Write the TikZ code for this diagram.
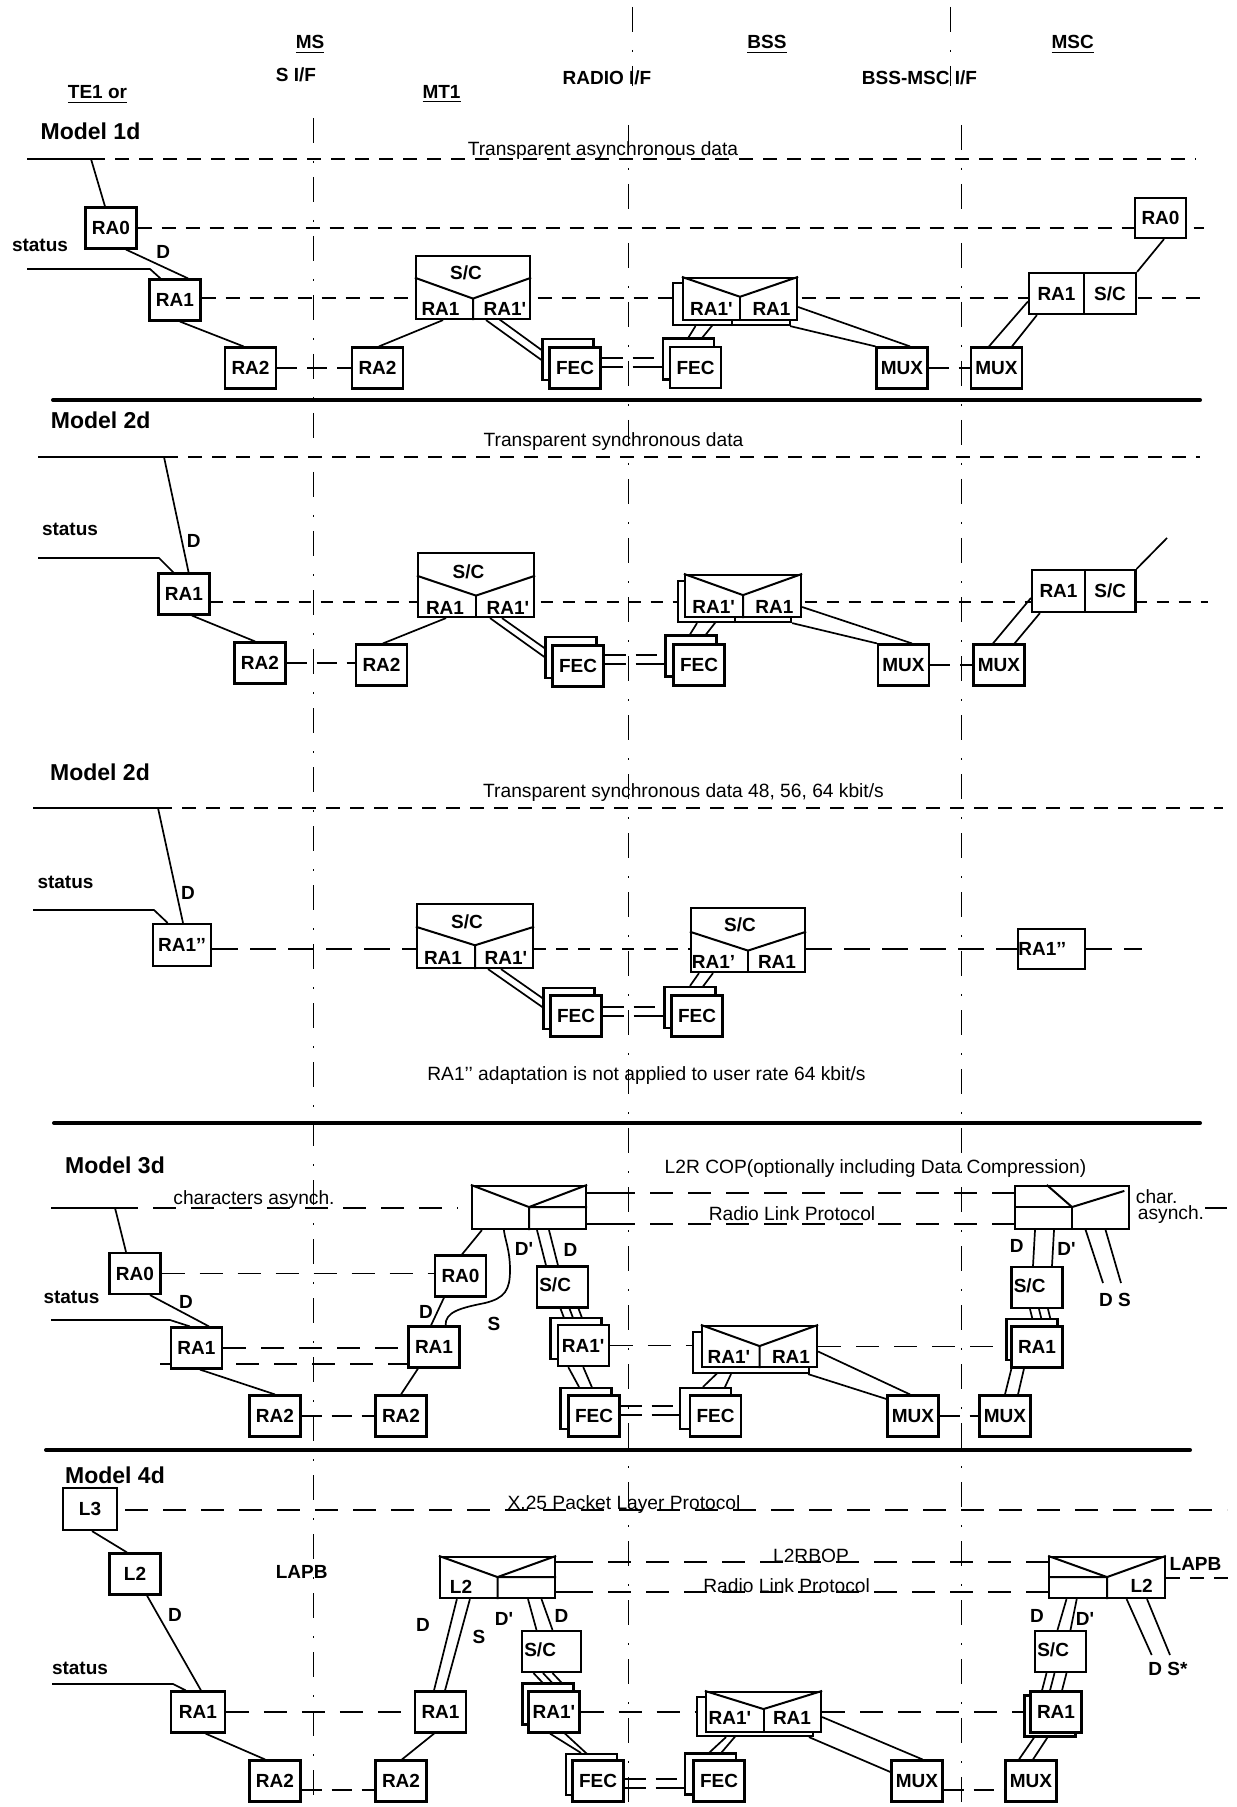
\documentclass[tikz,border=0pt]{standalone}
\usepackage{fontspec}
\setmainfont{Liberation Sans}
\usetikzlibrary{calc}
\usetikzlibrary{backgrounds}
\newcommand{\rapr}{\textquotesingle}

\begin{document}
\begin{tikzpicture}[
        x=0.5pt, y=-0.5pt, % una unidad = 1 px del dibujo, y hacia abajo
        lbl/.style={font=\bfseries\fontsize{9.5}{11}\selectfont, inner sep=0pt},
        tag/.style={lbl, anchor=base},
        txt/.style={font=\fontsize{9.6}{11}\selectfont, inner sep=0pt, anchor=base},
        ttl/.style={font=\bfseries\fontsize{11.5}{13}\selectfont, inner sep=0pt, anchor=base},
        blk/.style={draw, line width=1.1pt, fill=white, minimum width=25.5pt, minimum height=20.5pt, lbl},
        grp/.style={draw, line width=1.1pt, fill=white, inner sep=0pt},
        boxln/.style={line width=1pt},
        wire/.style={line width=0.85pt},
        divline/.style={line width=2pt, line cap=round},
        ifline/.style={line width=0.5pt, dash pattern=on 12.5pt off 9pt on 1pt off 7pt},
        hdash/.style={line width=1.15pt, dash pattern=on 7pt off 5pt},
        mdash/.style={line width=0.7pt, dash pattern=on 6pt off 5pt},
        ldash/.style={line width=0.55pt, dash pattern=on 11.5pt off 7.5pt},
        tdash/.style={line width=1.25pt, dash pattern=on 13pt off 6pt},
        rdash/.style={line width=1.4pt, dash pattern=on 10pt off 5pt},
        fecbus/.style={line width=1.3pt}
    ]
        % --- macros para las cajas compuestas ---
        \def\boxV#1#2#3{%
          \draw[boxln] ($(#1.north west)!#2!(#1.south west)$) -- ($(#1.north)!#3!(#1.south)$) coordinate (#1v) -- ($(#1.north east)!#2!(#1.south east)$);
          \draw[boxln] (#1v) -- (#1.south);}
        \def\boxL#1#2{%
          \draw[boxln] (#1.north west) -- ($(#1.north)!0.49!(#1.south)$) coordinate (#1v) -- (#1.north east);
          \draw[boxln] (#1v) -- (#1v -| #1.#2) (#1v) -- (#1.south);}
        \def\fecpair#1#2{%
          \draw[fecbus] ($(#1.east)+(0,#2)$) -- ++(21,0) ($(#1.east)+(31,#2)$) -- ++(21,0);
          \draw[fecbus] ($(#1.east)+(0,#2+9)$) -- ++(21,0) ($(#1.east)+(31,#2+9)$) -- ++(45,0);}

        \useasboundingbox (0,0) rectangle (1236,1807);

        % --- cabecera ---
        \node[tag] (hms) at (310,49) {\underline{MS}};
        \node[tag] (hsif) at (296,82) {S I/F};
        \node[tag] (hte) at (97.5,99) {\underline{TE1 or}};
        \node[tag] (hmt) at (441.5,99) {\underline{MT1}};
        \node[tag] (hradio) at (607,85) {RADIO I/F};
        \node[tag] (hbss) at (767,49) {\underline{BSS}};
        \node[tag] (hbssmsc) at (919.5,85) {BSS-MSC I/F};
        \node[tag] (hmsc) at (1072.6,49) {\underline{MSC}};

        \coordinate (sif-t) at (313,118);
        \coordinate (sif-b) at (313,1807);
        \coordinate (rif-u) at (632.5,7);
        \coordinate (rif-v) at (632.5,86);
        \coordinate (rif-t) at (628,125);
        \coordinate (rif-b) at (628,1807);
        \coordinate (bif-u) at (950,7);
        \coordinate (bif-v) at (950,86);
        \coordinate (bif-t) at (961,125);
        \coordinate (bif-b) at (961,1807);

        % ================= Model 1d =================
        \node[ttl] (m1title) at (90.5,140) {Model 1d};
        \node[txt] (m1txt) at (603,156) {Transparent asynchronous data};
        \node[tag] (m1st) at (40,252) {status};
        \node[tag] (m1dl) at (163.3,259) {D};

        \node[blk] (m1ra0) at (111,228) {RA0};
        \node[blk] (m1ra1) at (175,300) {RA1};
        \node[blk] (m1ra2) at (250.5,368) {RA2};
        \node[blk] (m1ra2b) at (377.5,368) {RA2};
        \node[grp, minimum width=57pt, minimum height=31.5pt] (m1ms) at (473,287.5) {};
        \node[blk] (m1fecb) at (568,359.5) {};
        \node[blk] (m1fec) at (575,368) {FEC};
        \node[blk] (m1bfecb) at (688.5,359) {};
        \node[blk] (m1bfec) at (695.5,367.5) {FEC};
        \node[grp, minimum width=58.5pt, minimum height=21pt] (m1bssb) at (731.5,304) {};
        \node[grp, minimum width=57pt, minimum height=21pt] (m1bss) at (740,299) {};
        \node[blk] (m1mux) at (902,368) {MUX};
        \node[blk] (m1muxb) at (996.5,368) {MUX};
        \node[blk, minimum width=27.5pt] (m1ra1c) at (1056.5,293.5) {RA1};
        \node[blk, minimum width=26pt] (m1sc) at (1110,293.5) {S/C};
        \node[blk, minimum height=20pt] (m1ra0c) at (1160.5,218) {RA0};

        \boxV{m1ms}{0.35}{0.67}
        \node[lbl] (m1ms-t) at (466,273) {S/C};
        \node[lbl] (m1ms-l) at (440.5,309) {RA1};
        \node[lbl] (m1ms-r) at (505,309) {RA1\rapr};
        \boxV{m1bss}{0}{0.45}
        \draw[boxln] (m1bssb.south) -- ++(0,-5);
        \node[lbl] (m1bss-l) at (711.5,309) {RA1\rapr};
        \node[lbl] (m1bss-r) at (771.5,309) {RA1};

        % ================= Model 2d =================
        \node[ttl] (m2title) at (100.7,429) {Model 2d};
        \node[txt] (m2txt) at (613.5,447) {Transparent synchronous data};
        \node[tag] (m2st) at (70,536) {status};
        \node[tag] (m2dl) at (193.7,547) {D};

        \node[blk] (m2ra1) at (184,594) {RA1};
        \node[blk] (m2ra2) at (260,663) {RA2};
        \node[blk] (m2ra2b) at (381.5,665) {RA2};
        \node[grp, minimum width=58pt, minimum height=32pt] (m2ms) at (476,585) {};
        \node[blk] (m2fecb) at (571,657.5) {};
        \node[blk] (m2fec) at (578,666) {FEC};
        \node[blk] (m2bfecb) at (691,656) {};
        \node[blk] (m2bfec) at (699,665) {FEC};
        \node[grp, minimum width=56.5pt, minimum height=20.5pt] (m2bssb) at (734.5,601.5) {};
        \node[grp, minimum width=58pt, minimum height=21pt] (m2bss) at (743,596) {};
        \node[blk] (m2mux) at (903.5,665) {MUX};
        \node[blk] (m2muxb) at (999,665) {MUX};
        \node[blk, minimum width=26.5pt, minimum height=21pt] (m2ra1c) at (1058.5,591) {RA1};
        \node[blk, minimum width=25.25pt, minimum height=21pt] (m2sc) at (1110.25,591) {S/C};

        \boxV{m2ms}{0.36}{0.66}
        \node[lbl] (m2ms-t) at (468.5,572) {S/C};
        \node[lbl] (m2ms-l) at (445,608) {RA1};
        \node[lbl] (m2ms-r) at (508,608) {RA1\rapr};
        \boxV{m2bss}{0}{0.48}
        \draw[boxln] (m2bssb.south) -- ++(0,-5);
        \node[lbl] (m2bss-l) at (713.6,607) {RA1\rapr};
        \node[lbl] (m2bss-r) at (774.4,607) {RA1};

        % ================= Model 2d (48, 56, 64 kbit/s) =================
        \node[ttl] (m3title) at (100,780) {Model 2d};
        \node[txt] (m3txt) at (683.5,797) {Transparent synchronous data 48, 56, 64 kbit/s};
        \node[txt] (m3note) at (646.5,1080) {RA1’’ adaptation is not applied to user rate 64 kbit/s};
        \node[tag] (m3st) at (65.5,888) {status};
        \node[tag] (m3dl) at (188,899.5) {D};

        \node[blk, minimum width=29.25pt, minimum height=21pt] (m3ra) at (182,945) {RA1’’};
        \node[grp, minimum width=58pt, minimum height=32pt] (m3ms) at (475,936) {};
        \node[blk] (m3fecb) at (569,1008.5) {};
        \node[blk] (m3fec) at (576,1016) {FEC};
        \node[blk] (m3bfecb) at (690,1007.5) {};
        \node[blk] (m3bfec) at (697,1016) {FEC};
        \node[grp, minimum width=57pt, minimum height=32pt] (m3bss) at (748,940) {};
        \node[blk, minimum width=33.5pt, minimum height=20pt] (m3rab) at (1051.5,949) {};
        \node[lbl, anchor=west] (m3rab-t) at ($(m3rab.west)+(1,0)$) {RA1’’};

        \boxV{m3ms}{0.36}{0.64}
        \node[lbl] (m3ms-t) at (467,922) {S/C};
        \node[lbl] (m3ms-l) at (443,958) {RA1};
        \node[lbl] (m3ms-r) at (506,958) {RA1\rapr};
        \boxV{m3bss}{0.375}{0.66}
        \node[lbl] (m3bss-t) at (740,925) {S/C};
        \node[lbl] (m3bss-l) at (713.6,962) {RA1’};
        \node[lbl] (m3bss-r) at (777,962) {RA1};

        % ================= Model 3d =================
        \node[ttl] (m4title) at (115,1173) {Model 3d};
        \node[txt] (m4cop) at (875.5,1173) {L2R COP(optionally including Data Compression)};
        \node[txt] (m4rlp) at (792,1220) {Radio Link Protocol};
        \node[txt] (m4chr) at (254,1204) {characters asynch.};
        \node[txt, anchor=base west] (m4ch1) at (1135.5,1203) {char.};
        \node[txt, anchor=base west] (m4ch2) at (1137.5,1219) {asynch.};
        \node[tag] (m4st) at (71.5,1303) {status};
        \node[tag] (m4dl) at (186,1308) {D};
        \node[tag] (m4d2) at (426,1318) {D};
        \node[tag] (m4s2) at (494,1330) {S};
        \node[tag] (m4dp) at (524,1255) {D\rapr};
        \node[tag] (m4d3) at (570.6,1256) {D};
        \node[tag] (m4d4) at (1016.6,1252) {D};
        \node[tag] (m4dq) at (1066.5,1255) {D\rapr};
        \node[tag] (m4ds) at (1115,1306) {D S};

        \node[blk] (m4ra0) at (135,1273.5) {RA0};
        \node[blk] (m4ra1) at (196.5,1348) {RA1};
        \node[blk] (m4ra2) at (275,1416) {RA2};
        \node[blk] (m4ra2b) at (401,1416) {RA2};
        \node[blk] (m4ra1b) at (434,1347) {RA1};
        \node[blk] (m4ra0b) at (460.5,1276) {RA0};
        \node[grp, minimum width=57pt, minimum height=21.5pt] (m4ms) at (529,1207.5) {};
        \node[blk] (m4sc) at (562.5,1287) {};
        \node[lbl, anchor=west] (m4sc-t) at ($(m4sc.west)+(3,-2)$) {S/C};
        \node[blk] (m4r1pb) at (576,1338.5) {};
        \node[blk] (m4r1p) at (583.25,1345.5) {RA1\rapr};
        \node[blk] (m4fecb) at (586,1408.5) {};
        \node[blk] (m4fec) at (594,1416) {FEC};
        \node[blk] (m4bfecb) at (705.5,1408.5) {};
        \node[blk] (m4bfec) at (715.5,1416) {FEC};
        \node[grp, minimum width=58pt, minimum height=20.5pt] (m4bssb) at (751,1352.5) {};
        \node[grp, minimum width=57.5pt, minimum height=20.5pt] (m4bss) at (759.5,1346.5) {};
        \node[blk] (m4mux) at (913,1416) {MUX};
        \node[blk] (m4muxb) at (1005,1416) {MUX};
        \node[blk] (m4ra1cb) at (1032,1339.5) {};
        \node[blk] (m4ra1c) at (1037,1347) {RA1};
        \node[blk] (m4sc2) at (1037,1287.5) {};
        \node[lbl, anchor=west] (m4sc2-t) at ($(m4sc2.west)+(3,-2)$) {S/C};
        \node[grp, minimum width=57.2pt, minimum height=21.5pt] (m4msr) at (1072,1207.5) {};

        \boxL{m4ms}{east}
        \draw[boxln] ($(m4msr.north west)+(33,0)$) -- ($(m4msr.north)!0.49!(m4msr.south)$) coordinate (m4msrv) -- ($(m4msr.north east)+(-6,6)$);
        \draw[boxln] (m4msrv) -- (m4msrv -| m4msr.west) (m4msrv) -- (m4msr.south);
        \boxV{m4bss}{0}{0.49}
        \node[lbl] (m4bss-l) at (729,1357) {RA1\rapr};
        \node[lbl] (m4bss-r) at (791,1357) {RA1};

        % ================= Model 4d =================
        \node[ttl] (m5title) at (115,1483) {Model 4d};
        \node[txt] (m5x25) at (624,1509) {X.25 Packet Layer Protocol};
        \node[txt] (m5l2r) at (811,1562) {L2RBOP};
        \node[txt] (m5rlp) at (786.6,1592) {Radio Link Protocol};
        \node[tag] (m5lapb) at (301.7,1578) {LAPB};
        \node[tag] (m5lapb2) at (1195.5,1570) {LAPB};
        \node[tag] (m5st) at (80,1674) {status};
        \node[tag] (m5dl) at (175,1621) {D};
        \node[tag] (m5d2) at (423,1631) {D};
        \node[tag] (m5s2) at (479,1643) {S};
        \node[tag] (m5dp) at (504,1625) {D\rapr};
        \node[tag] (m5d3) at (561.5,1622) {D};
        \node[tag] (m5d4) at (1037,1622) {D};
        \node[tag] (m5dq) at (1085,1625) {D\rapr};
        \node[tag] (m5ds) at (1168,1675) {D S*};

        \node[blk, minimum width=27pt, minimum height=21pt] (m5l3) at (90,1509) {L3};
        \node[blk] (m5l2) at (135,1574) {L2};
        \node[blk, minimum width=26.8pt] (m5ra1) at (198,1712) {RA1};
        \node[blk] (m5ra2) at (275,1781) {RA2};
        \node[blk] (m5ra2b) at (401,1781) {RA2};
        \node[blk] (m5ra1b) at (440.5,1712) {RA1};
        \node[grp, minimum width=57.5pt, minimum height=20.5pt] (m5ms) at (497.5,1577.5) {};
        \node[blk, minimum width=29.5pt] (m5sc) at (551.5,1651.5) {};
        \node[lbl, anchor=west] (m5sc-t) at ($(m5sc.west)+(3,-2)$) {S/C};
        \node[blk] (m5r1pb) at (548,1704) {};
        \node[blk] (m5r1p) at (554,1712) {RA1\rapr};
        \node[blk] (m5fecb) at (591.5,1774.5) {};
        \node[blk] (m5fec) at (598,1781) {FEC};
        \node[blk] (m5bfecb) at (710.5,1774) {};
        \node[blk] (m5bfec) at (719,1781) {FEC};
        \node[grp, minimum width=58pt, minimum height=19.5pt] (m5bssb) at (755,1716.5) {};
        \node[grp, minimum width=57.5pt, minimum height=20pt] (m5bss) at (763.5,1712) {};
        \node[blk] (m5mux) at (917,1781) {MUX};
        \node[blk] (m5muxb) at (1031,1781) {MUX};
        \node[blk] (m5ra1cb) at (1050,1716) {};
        \node[blk] (m5ra1c) at (1056,1712) {RA1};
        \node[blk] (m5sc2) at (1060.5,1651.5) {};
        \node[lbl, anchor=west] (m5sc2-t) at ($(m5sc2.west)+(3,-2)$) {S/C};
        \node[grp, minimum width=57.75pt, minimum height=20.5pt] (m5msr) at (1107,1577.5) {};

        \boxL{m5ms}{east}
        \node[lbl] (m5ms-t) at (461,1587) {L2};
        \boxL{m5msr}{west}
        \node[lbl] (m5msr-t) at (1141.6,1586) {L2};
        \boxV{m5bss}{0}{0.43}
        \node[lbl] (m5bss-l) at (730,1718) {RA1\rapr};
        \node[lbl] (m5bss-r) at (792,1718) {RA1};

        % ================= lineas (detras de las cajas) =================
        \begin{pgfonlayer}{background}
        % interfaces y separadores
        \draw[ifline] (sif-t) -- (sif-b);
        \draw[ifline] (rif-u) -- (rif-v);
        \draw[ifline] (rif-t) -- (rif-b);
        \draw[ifline] (bif-u) -- (bif-v);
        \draw[ifline] (bif-t) -- (bif-b);
        \draw[divline] (53,400) -- (1200,400);
        \draw[divline] (54,1123) -- (1200,1123);
        \draw[divline] (46,1450) -- (1190,1450);

        % --- Model 1d ---
        \coordinate (m1a) at (27,159);
        \coordinate (m1b) at (91,159);
        \coordinate (m1c) at (1196,159);
        \coordinate (m1d) at (1204,228);
        \coordinate (m1e) at (1202,298);
        \coordinate (m1s) at (27,269);
        \draw[wire] (m1a) -- (m1b) -- ($(m1ra0.north)+(-6,0)$);
        \draw[hdash] (m1b) -- (m1c);
        \draw[hdash] (m1ra0.east) -- (m1d);
        \draw[wire] (m1s) -- ++(123,0) -- ($(m1ra1.north west)+(12,0)$);
        \draw[wire] ($(m1ra0.south)+(15,0)$) -- ($(m1ra1.north)+(13,0)$);
        \draw[hdash] (m1ra1.east |- m1e) -- (m1e);
        \draw[wire] ($(m1ra1.south)+(5,0)$) -- ($(m1ra2.north)+(-7,0)$);
        \draw[rdash] (m1ra2.east) -- (m1ra2b.west);
        \draw[wire] ($(m1ra2b.north)+(1.5,0)$) -- ($(m1ms.south)+(-30,0)$);
        \draw[wire] ($(m1ms.south)+(13,0)$) -- ($(m1fec.west)+(0,-3)$);
        \draw[wire] ($(m1ms.south)+(26,-1)$) -- ($(m1fec.west)+(0,-13)$);
        \fecpair{m1fec}{-10}
        \draw[wire] ($(m1bss.south)+(-25,1)$) -- (m1bfec.north);
        \draw[wire] ($(m1bssb.south)+(-36,0)$) -- (m1bfecb.north);
        \draw[wire] ($(m1bss.east)+(0,8)$) -- ($(m1mux.north)+(8,0)$);
        \draw[wire] ($(m1bssb.south east)+(-1,0)$) -- (m1mux.north west);
        \draw[rdash] (m1mux.east) -- (m1muxb.west);
        \draw[wire] ($(m1ra1c.west)+(0,8)$) -- ($(m1muxb.north)+(-7.5,0)$);
        \draw[wire] ($(m1ra1c.south west)+(9,0)$) -- ($(m1muxb.north)+(15.5,0)$);
        \draw[wire] (m1sc.north east) -- ($(m1ra0c.south)+(3.5,0)$);

        % --- Model 2d ---
        \coordinate (m2a) at (38,457);
        \coordinate (m2b) at (164,457);
        \coordinate (m2c) at (1200,457);
        \coordinate (m2e) at (1208,602);
        \coordinate (m2f) at (1167,538);
        \coordinate (m2s) at (38,558);
        \draw[wire] (m2a) -- (m2b) -- ($(m2ra1.north)+(4.6,0)$);
        \draw[hdash] (m2b) -- (m2c);
        \draw[wire] (m2s) -- ++(121,0) -- ($(m2ra1.north west)+(16,0)$);
        \draw[mdash] (m2ra1.east |- m2e) -- (m2e);
        \draw[wire] ($(m2ra1.south)+(8,0)$) -- ($(m2ra2.north)+(-5,0)$);
        \draw[rdash] (m2ra2.east) -- (m2ra2.east -| m2ra2b.west);
        \draw[wire] ($(m2ra2b.north)+(1.5,0)$) -- ($(m2ms.south)+(-30,0)$);
        \draw[wire] ($(m2ms.south)+(14,0)$) -- ($(m2fec.west)+(0,-4)$);
        \draw[wire] ($(m2ms.south)+(26,0)$) -- ($(m2fec.west)+(0,-13)$);
        \fecpair{m2fec}{-11}
        \draw[wire] ($(m2bss.south)+(-25,1)$) -- (m2bfec.north);
        \draw[wire] ($(m2bssb.south)+(-37.5,0)$) -- ($(m2bfecb.north)+(-1,0)$);
        \draw[wire] ($(m2bss.east)+(0,11)$) -- ($(m2mux.north)+(8.5,0)$);
        \draw[wire] (m2bssb.south east) -- (m2mux.north west);
        \draw[rdash] (m2mux.east) -- (m2muxb.west);
        \draw[wire] (m2sc.north east) -- (m2f);
        \draw[wire] ($(m2ra1c.west)+(0,7)$) -- ($(m2muxb.north)+(-6,0)$);
        \draw[wire] ($(m2ra1c.south west)+(9,0)$) -- ($(m2muxb.north)+(15.6,0)$);

        % --- Model 2d (48, 56, 64 kbit/s) ---
        \coordinate (m3a) at (33,808);
        \coordinate (m3b) at (158,808);
        \coordinate (m3c) at (1223,808);
        \coordinate (m3s) at (33,910);
        \coordinate (m3row) at (0,949);
        \coordinate (m3e) at (1142,949);
        \draw[wire] (m3a) -- (m3b) -- ($(m3ra.north)+(1,0)$);
        \draw[hdash] (m3b) -- (m3c);
        \draw[wire] (m3s) -- ++(121,0) -- ($(m3ra.north west)+(16,0)$);
        \draw[tdash] (m3ra.east |- m3row) -- (m3ms.west |- m3row);
        \draw[mdash] (m3ms.east |- m3row) -- (m3bss.west |- m3row);
        \draw[tdash] (m3bss.east |- m3row) -- (m3rab.west);
        \draw[tdash] (m3rab.east) -- (m3e);
        \draw[wire] ($(m3ms.south)+(13,0)$) -- ($(m3fec.west)+(0,-4)$);
        \draw[wire] ($(m3ms.south)+(26,0)$) -- ($(m3fec.west)+(0,-13)$);
        \fecpair{m3fec}{-9}
        \draw[wire] ($(m3bss.south)+(-49,0)$) -- (m3bfecb.north);
        \draw[wire] ($(m3bss.south)+(-35,0)$) -- (m3bfec.north);

        % --- Model 3d ---
        \coordinate (m4a) at (51,1208);
        \coordinate (m4b) at (115,1208);
        \coordinate (m4c) at (458,1208);
        \coordinate (m4s) at (51,1320);
        \coordinate (m4d) at (160,1364);
        \coordinate (m4p) at (612,1193);
        \coordinate (m4q) at (612,1224);
        \coordinate (m4r) at (1205,1208);
        \coordinate (m4t) at (1227,1208);
        \coordinate (m4ds1) at (1103,1283);
        \coordinate (m4ds2) at (1121,1283);
        \draw[wire] (m4a) -- (m4b) -- ($(m4ra0.north)+(-9,0)$);
        \draw[ldash] (m4b) -- (m4c);
        \draw[ldash] (m4ra0.east) -- (m4ra0.east -| m4ra0b.west);
        \draw[wire] (m4s) -- ++(119,0) -- ($(m4ra1.north west)+(20,0)$);
        \draw[wire] ($(m4ra0.south)+(15,0)$) -- ($(m4ra1.north)+(12.5,0)$);
        \draw[ldash] (m4ra1.east) -- (m4ra1.east -| m4ra1b.west);
        \draw[ldash] (m4d) -- (m4d -| m4ra1b.west);
        \draw[wire] ($(m4ra1.south)+(3.5,0)$) -- (m4ra2.north);
        \draw[rdash] (m4ra2.east) -- (m4ra2b.west);
        \draw[wire] (m4ra2b.north) -- ($(m4ra1b.south)+(-16,0)$);
        \draw[wire] ($(m4ra1b.north)+(-3,0)$) -- ($(m4ra0b.south)+(-16.5,0)$);
        \draw[wire] ($(m4ra0b.north)+(1.5,0)$) -- ($(m4ms.south west)+(11,0)$);
        \draw[wire] ($(m4ra1b.north)+(11.6,0)$) .. controls (445,1312) and (460,1308) .. (485,1303)
            .. controls (505,1298) and (510,1290) .. (510,1270)
            .. controls (510,1250) and (505,1240) .. ($(m4ms.south west)+(33,0)$);
        \draw[wire] ($(m4ms.south)+(8,0)$) -- ($(m4sc.north)+(-16.5,0)$);
        \draw[wire] ($(m4ms.south)+(20,0)$) -- ($(m4sc.north)+(-4.5,0)$);
        \foreach \k in {0,9,18}
            \draw[wire] ($(m4sc.south)+(-2+\k,0)$) -- ($(m4r1p.north)+(-17+\k,0)$);
        \draw[wire] (m4ms.east |- m4p) -- (m4p);
        \draw[ldash] (m4p) -- (m4msr.west |- m4p);
        \draw[wire] (m4ms.east |- m4q) -- (m4q);
        \draw[ldash] (m4q) -- (m4msr.west |- m4q);
        \draw[ldash] (m4r1p.east) -- (m4r1p.east -| m4bss.west);
        \draw[ldash] (m4bss.east) -- (m4bss.east -| m4ra1c.west);
        \draw[wire] ($(m4r1p.south)+(-15,0)$) -- ($(m4fecb.north)+(-7,0)$);
        \draw[wire] (m4r1p.south) -- ($(m4fec.north)+(1,0)$);
        \fecpair{m4fec}{-10}
        \draw[wire] ($(m4bss.south)+(-37,0)$) -- ($(m4bfecb.north)+(-2.5,0)$);
        \draw[wire] ($(m4bssb.south)+(-20,0)$) -- ($(m4bfec.north)+(6,0)$);
        \draw[wire] ($(m4bss.east)+(0,5)$) -- ($(m4mux.north)+(-3,0)$);
        \draw[wire] ($(m4bssb.south east)+(-2,0)$) -- ($(m4mux.west)+(0,-17)$);
        \draw[rdash] (m4mux.east) -- (m4muxb.west);
        \draw[wire] ($(m4ra1c.south west)+(1,0)$) -- (m4muxb.north);
        \draw[wire] ($(m4ra1c.south)+(-13,0)$) -- ($(m4muxb.north)+(13,0)$);
        \foreach \k in {0,9,18}
            \draw[wire] ($(m4sc2.south)+(-7+\k,0)$) -- ($(m4ra1c.north)+(-3+\k,0)$);
        \draw[wire] ($(m4msr.south)+(-37,0)$) -- ($(m4sc2.north)+(-4,0)$);
        \draw[wire] ($(m4msr.south)+(-18,0)$) -- ($(m4sc2.north)+(15,0)$);
        \draw[wire] ($(m4msr.south)+(13,-2)$) -- (m4ds1);
        \draw[wire] ($(m4msr.south)+(33,-2)$) -- (m4ds2);
        \draw[wire] (m4r) -- (m4t);

        % --- Model 4d ---
        \coordinate (m5x) at (125,1510);
        \coordinate (m5y) at (1227,1510);
        \coordinate (m5s) at (52,1684);
        \coordinate (m5row) at (0,1790);
        \coordinate (m5p) at (570,1562);
        \coordinate (m5q) at (570,1592);
        \coordinate (m5z) at (1229,1578);
        \coordinate (m5ds1) at (1151.7,1655);
        \coordinate (m5ds2) at (1170,1655);
        \draw[ldash] (m5x) -- (m5y);
        \draw[wire] ($(m5l3.south)+(2,0)$) -- ($(m5l2.north)+(-8,0)$);
        \draw[wire] ($(m5l2.south)+(12,0)$) -- ($(m5ra1.north)+(3,0)$);
        \draw[wire] (m5s) -- ++(121,0) -- ($(m5ra1.north west)+(15.6,0)$);
        \draw[ldash] (m5ra1.east) -- (m5ra1b.west);
        \draw[wire] ($(m5ra1.south)+(7.6,0)$) -- ($(m5ra2.north)+(-10,0)$);
        \draw[rdash] (m5ra2.east |- m5row) -- (m5ra2b.west |- m5row);
        \draw[wire] ($(m5ra2b.north)+(1,0)$) -- ($(m5ra1b.south)+(-6.5,0)$);
        \draw[wire] ($(m5ra1b.north)+(-6.5,0)$) -- ($(m5ms.south west)+(18,0)$);
        \draw[wire] ($(m5ra1b.north)+(4.5,0)$) -- ($(m5ms.south west)+(31,0)$);
        \draw[wire] (m5ms.east |- m5p) -- (m5p);
        \draw[ldash] (m5p) -- (m5msr.west |- m5p);
        \draw[wire] (m5ms.east |- m5q) -- (m5q);
        \draw[ldash] (m5q) -- (m5msr.west |- m5q);
        \draw[wire] ($(m5ms.south)+(30.5,0)$) -- ($(m5sc.north)+(-15,0)$);
        \draw[wire] ($(m5ms.south)+(44,0)$) -- ($(m5sc.north)+(1,0)$);
        \foreach \k in {0,9.5,19}
            \draw[wire] ($(m5sc.south)+(-18+\k,0)$) -- ($(m5r1p.north)+(-4+\k,0)$);
        \draw[ldash] (m5r1p.east) -- (m5r1p.east -| m5bss.west);
        \draw[ldash] (m5bss.east) -- (m5bss.east -| m5ra1c.west);
        \draw[wire] ($(m5r1p.south)+(-4,0)$) -- ($(m5fecb.north)+(-10.5,0)$);
        \draw[wire] ($(m5r1p.south)+(11,0)$) -- ($(m5fec.north)+(-5,0)$);
        \fecpair{m5fec}{-2}
        \draw[wire] ($(m5bss.south)+(-25.5,0)$) -- ($(m5bfec.north)+(-3.4,0)$);
        \draw[wire] ($(m5bssb.south)+(-29,0)$) -- ($(m5bfecb.north)+(-1,0)$);
        \draw[wire] ($(m5bss.east)+(0,5)$) -- ($(m5mux.north)+(5.5,0)$);
        \draw[wire] ($(m5bssb.south)+(54,0)$) -- ($(m5mux.west)+(0,-9)$);
        \draw[rdash] (m5mux.east |- m5row) -- (m5muxb.west |- m5row);
        \draw[wire] ($(m5ra1cb.south)+(-16,0)$) -- ($(m5muxb.north)+(-12,0)$);
        \draw[wire] ($(m5ra1c.south)+(-6,0)$) -- ($(m5muxb.north)+(2,0)$);
        \foreach \k in {-14,-6,6}
            \draw[wire] ($(m5sc2.south)+(\k,0)$) -- ($(m5ra1c.north)+(\k,0)$);
        \draw[wire] ($(m5msr.south)+(-40.5,0)$) -- ($(m5sc2.north)+(-3,0)$);
        \draw[wire] ($(m5msr.south)+(-30.3,0)$) -- ($(m5sc2.north)+(10,0)$);
        \draw[wire] ($(m5msr.south)+(19.6,0)$) -- (m5ds1);
        \draw[wire] ($(m5msr.south)+(40,0)$) -- (m5ds2);
        \draw[hdash] (m5msr.east |- m5z) -- (m5z);
        \end{pgfonlayer}
    \end{tikzpicture}
\end{document}
